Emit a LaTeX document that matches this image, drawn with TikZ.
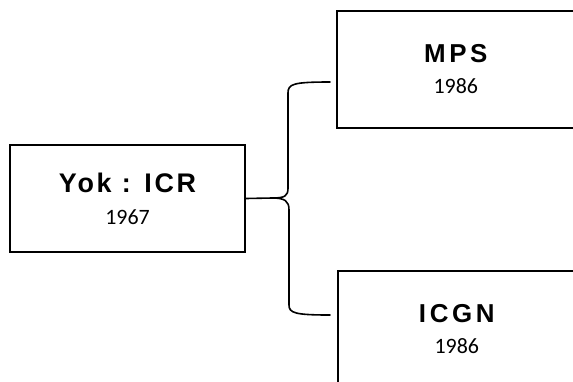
\documentclass[tikz,border=0pt]{standalone}
\usepackage{fontspec}
\setmainfont{Liberation Sans}
\newfontfamily\yrfont{Carlito}
\newfontfamily\ttlfont[LetterSpace=14]{Liberation Sans}
\newfontfamily\ttlwide[LetterSpace=10]{Liberation Sans}
\newcommand{\ttl}[1]{{\fontsize{26}{30}\ttlfont\bfseries #1}}
\tikzset{
	orgbox/.style={draw,line width=1.6bp,align=center,inner sep=0pt,
		font=\fontsize{22}{25}\yrfont},
	bracket/.style={line width=1.6bp,line cap=round,line join=round}
}
\begin{document}
\begin{tikzpicture}[x=1bp,y=-1bp]
	\useasboundingbox (0,0) rectangle (573,381);
	\clip (0,0) rectangle (573,381);
	\node[orgbox,minimum width=235bp,minimum height=107bp] (yok) at (127.5,198.5) {{\fontsize{27}{30}\ttlwide\bfseries Yok : ICR}\\[7bp]1967};
	\node[orgbox,minimum width=238bp,minimum height=117bp,anchor=north west] (mps) at (336,10) {\ttl{MPS}\\[6bp]1986};
	\node[orgbox,minimum width=238bp,minimum height=117bp,anchor=north west] (icgn) at (337,270) {\ttl{ICGN}\\[6bp]1986};
	% brace from Yok to the two later ones
	\coordinate (tip) at (272,198);
	\coordinate (mpsin) at (330,82);
	\coordinate (icgnin) at (330,315);
	\draw[bracket] (yok.east) -- (tip) .. controls (285,198) and (288,196) .. (288,188) -- (288,93) .. controls (288,84) and (293,82) .. (mpsin);
	\draw[bracket] (tip) .. controls (285,198) and (289,201) .. (289,210) -- (289,305) .. controls (289,313) and (295,315) .. (icgnin);
\end{tikzpicture}
\end{document}
